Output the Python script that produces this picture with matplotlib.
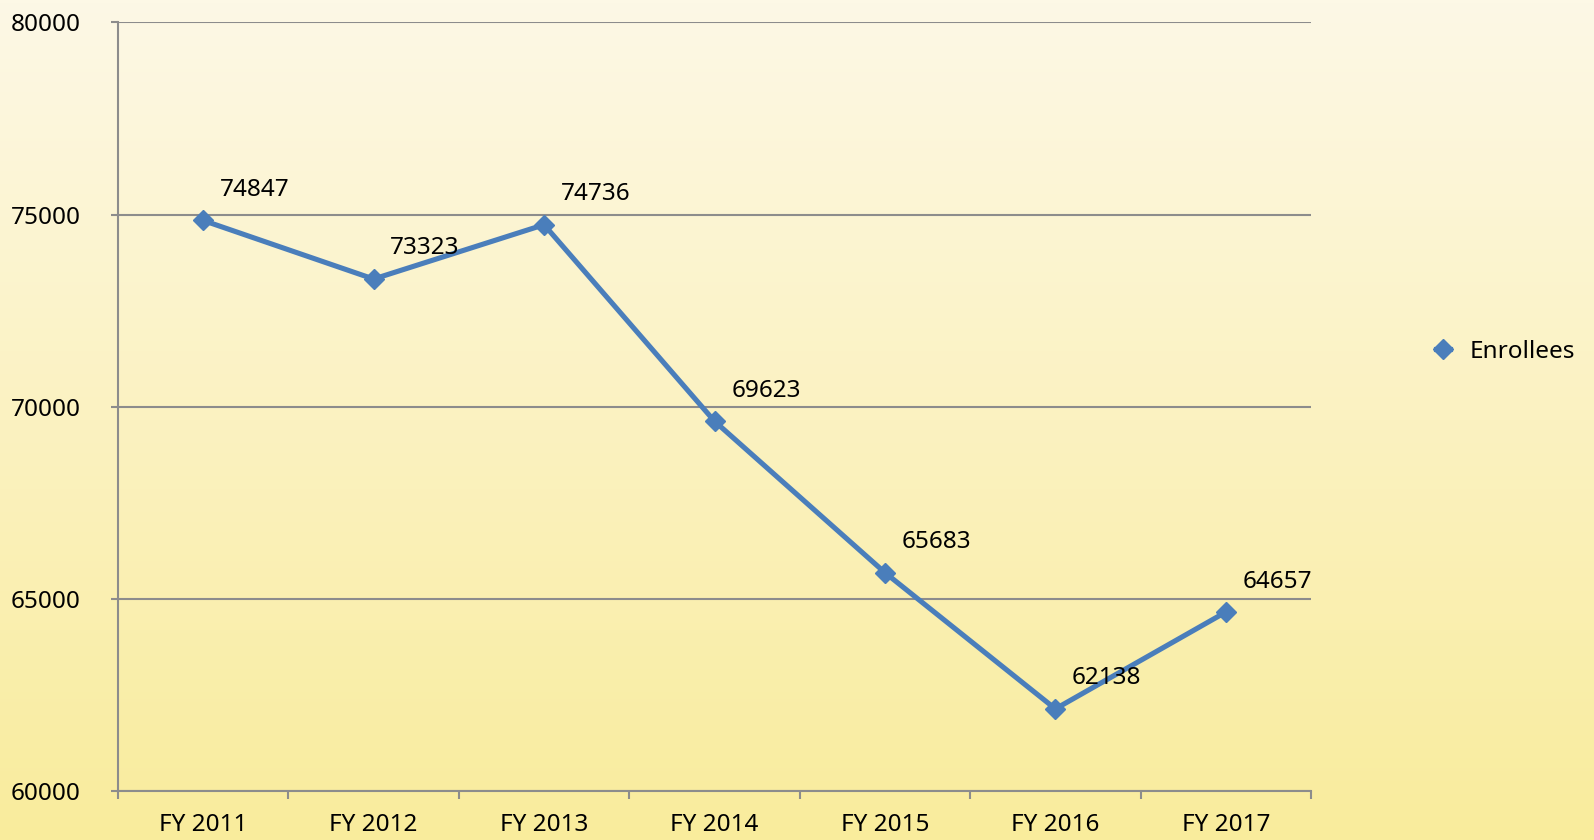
import matplotlib
matplotlib.use("Agg")
import matplotlib.pyplot as plt
import numpy as np
from matplotlib.colors import LinearSegmentedColormap

categories = ["FY 2011", "FY 2012", "FY 2013", "FY 2014", "FY 2015", "FY 2016", "FY 2017"]
enrollees = [74847, 73323, 74736, 69623, 65683, 62138, 64657]
yticks = [60000, 65000, 70000, 75000, 80000]

plt.rcParams['font.family'] = ['Noto Sans', 'DejaVu Sans']
FS = 17.5

fig = plt.figure(figsize=(15.94, 8.4), dpi=100)

# gradient background
bg = fig.add_axes([0, 0, 1, 1], zorder=-10)
cmap = LinearSegmentedColormap.from_list("bg", ["#FDF8E6", "#F9EC9C"])
grad = np.linspace(0, 1, 256).reshape(-1, 1)
bg.imshow(grad, aspect="auto", cmap=cmap, extent=[0, 1, 0, 1], origin="upper")
bg.set_axis_off()

ax = fig.add_axes([0.074, 0.0583, 0.7485, 0.915])
ax.set_facecolor("none")
x = np.arange(len(categories))
line_color = "#4A7EBB"
ax.plot(x, enrollees, color=line_color, lw=3.7, marker="D", markersize=10,
        markerfacecolor=line_color, markeredgecolor=line_color, label="Enrollees", zorder=3)

for xi, v in zip(x, enrollees):
    ax.annotate(str(v), (xi, v), xytext=(12, 22), textcoords="offset points",
                ha="left", va="center", fontsize=FS, color="black", zorder=4)

ax.set_xlim(-0.5, len(categories) - 0.5)
ax.set_ylim(60000, 80000)
ax.set_yticks(yticks)
ax.set_yticklabels([str(t) for t in yticks], fontsize=FS)
ax.set_xticks(x)
ax.set_xticklabels(categories, fontsize=FS)
ax.set_xticks(np.arange(-0.5, len(categories), 1.0), minor=True)

grid_color = "#8C8C8C"
ax.yaxis.grid(True, color=grid_color, lw=1.5)
ax.set_axisbelow(True)
for s in ["top", "right"]:
    ax.spines[s].set_visible(False)
for s in ["left", "bottom"]:
    ax.spines[s].set_color(grid_color)
    ax.spines[s].set_linewidth(1.5)

ax.tick_params(axis="y", length=5, width=1.5, color=grid_color, pad=22)
ax.tick_params(axis="x", which="major", length=0, pad=16)
ax.tick_params(axis="x", which="minor", length=6, width=1.5, color=grid_color)

fig.legend(handles=ax.get_lines(), labels=["Enrollees"], loc="center left",
           bbox_to_anchor=(0.887, 1 - 352 / 840), frameon=False, fontsize=FS,
           handlelength=0.6, handletextpad=0.8)

fig.savefig("out.png", dpi=100)
